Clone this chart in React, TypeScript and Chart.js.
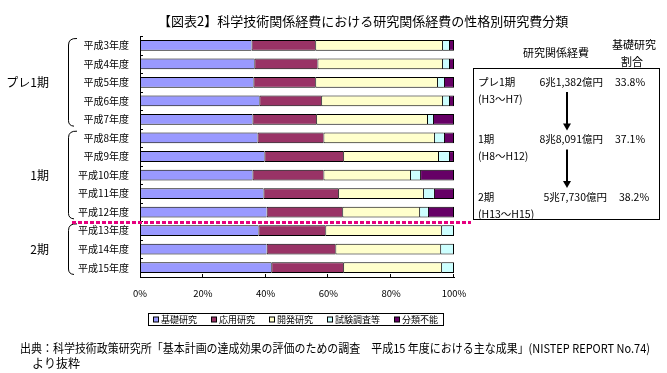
import React, { useEffect, useRef } from 'react';
import { Chart, registerables } from 'chart.js';

Chart.register(...registerables);

const FONT = '"Noto Sans CJK JP", "Noto Sans", sans-serif';

const titleText = '【図表2】科学技術関係経費における研究関係経費の性格別研究費分類';
const footerLine1 = '出典：科学技術政策研究所「基本計画の達成効果の評価のための調査　平成15 年度における主な成果」(NISTEP REPORT No.74)';
const footerLine2 = 'より抜粋';

const years = ['平成3年度', '平成4年度', '平成5年度', '平成6年度', '平成7年度', '平成8年度', '平成9年度', '平成10年度', '平成11年度', '平成12年度', '平成13年度', '平成14年度', '平成15年度'];
const basic = [35.5, 36.4, 36.1, 38.0, 35.8, 37.4, 39.6, 35.8, 39.3, 40.3, 37.7, 40.3, 41.8];
const applied = [20.3, 20.1, 19.7, 19.7, 20.3, 21.0, 25.1, 22.6, 23.8, 24.1, 21.3, 21.9, 22.9];
const development = [40.4, 39.7, 38.8, 38.5, 35.3, 35.2, 30.2, 27.6, 27.0, 24.5, 36.9, 33.4, 31.2];
const survey = [2.2, 2.2, 2.2, 2.2, 1.9, 3.2, 3.5, 3.2, 3.5, 2.8, 4.1, 4.4, 4.1];
const unclassified = [1.6, 1.6, 3.2, 1.6, 6.7, 3.2, 1.6, 10.8, 6.4, 8.3, 0, 0, 0];

const seriesNames = ['基礎研究', '応用研究', '開発研究', '試験調査等', '分類不能'];
const seriesColors = ['#9999FF', '#993366', '#FFFFCC', '#CCFFFF', '#660066'];
const xTicks = [0, 20, 40, 60, 80, 100];

const periodLabels = ['プレ1期', '1期', '2期'];
const periodStart = [0, 5, 10];
const periodEnd = [4, 9, 12];
const periodRanges = ['(H3～H7)', '(H8～H12)', '(H13～H15)'];
const periodBudgets = ['6兆1,382億円', '8兆8,091億円', '5兆7,730億円'];
const basicShares = ['33.8%', '37.1%', '38.2%'];

const allSeries = [basic, applied, development, survey, unclassified];

function isLastSegment(ds: number, idx: number) {
  for (let k = ds + 1; k < allSeries.length; k++) {
    if (allSeries[k][idx] > 0) return false;
  }
  return true;
}

const decorPlugin = {
  id: 'decor',
  afterDraw(chart: any) {
    const ctx = chart.ctx;
    const xs = chart.scales.x;
    const ys = chart.scales.y;
    const area = chart.chartArea;
    const n = years.length;
    const band = (area.bottom - area.top) / n;
    const bTop = (i: number) => ys.getPixelForValue(i) - band / 2;
    ctx.save();
    ctx.strokeStyle = '#000';
    ctx.fillStyle = '#000';
    ctx.lineWidth = 1;

    // inside tick marks on y axis (category boundaries)
    for (let i = 0; i < n; i++) {
      const yy = Math.round(bTop(i)) + 0.5;
      ctx.beginPath();
      ctx.moveTo(area.left, yy);
      ctx.lineTo(area.left + 3, yy);
      ctx.stroke();
    }
    // inside tick marks on x axis
    xTicks.slice(1).forEach((v) => {
      const xx = Math.round(xs.getPixelForValue(v)) - 0.5;
      ctx.beginPath();
      ctx.moveTo(xx, area.bottom);
      ctx.lineTo(xx, area.bottom - 3);
      ctx.stroke();
    });

    // title
    ctx.font = `13px ${FONT}`;
    ctx.textBaseline = 'middle';
    ctx.textAlign = 'left';
    ctx.fillText(titleText, 158, 21, 430);

    // period groups: labels and brackets
    ctx.font = `12px ${FONT}`;
    ctx.textAlign = 'right';
    periodLabels.forEach((lab, g) => {
      const top = bTop(periodStart[g]);
      const bot = bTop(periodEnd[g]) + band;
      ctx.fillText(lab, 49, (top + bot) / 2);
      const t = top + 2;
      const b = bot - 3;
      ctx.beginPath();
      ctx.moveTo(77, t + 0.5);
      ctx.quadraticCurveTo(68.5, t, 68.5, t + 7);
      ctx.lineTo(68.5, b - 5);
      ctx.quadraticCurveTo(68.5, b, 74, b + 0.5);
      ctx.stroke();
    });

    // pink dotted separator between period 1 and period 2
    const sepY = bTop(periodStart[2]) + 1;
    ctx.save();
    ctx.strokeStyle = '#E6007E';
    ctx.lineWidth = 3;
    ctx.setLineDash([4, 2]);
    ctx.beginPath();
    ctx.moveTo(72, sepY);
    ctx.lineTo(471, sepY);
    ctx.stroke();
    ctx.restore();

    // right panel
    ctx.font = `11px ${FONT}`;
    ctx.textAlign = 'center';
    ctx.fillText('研究関係経費', 556, 53);
    ctx.fillText('基礎研究', 634, 45);
    ctx.fillText('割合', 632, 62);
    ctx.strokeRect(473.5, 68.5, 186, 151);
    const rowY = [82, 139.5, 197];
    ctx.font = `10.5px ${FONT}`;
    periodLabels.forEach((lab, i) => {
      ctx.textAlign = 'left';
      ctx.fillText(lab, 478, rowY[i]);
      ctx.fillText(periodRanges[i], 478, rowY[i] + 17);
      ctx.textAlign = 'right';
      ctx.fillText(periodBudgets[i], 603 + (i === 2 ? 4 : 0), rowY[i]);
      ctx.textAlign = 'left';
      ctx.fillText(basicShares[i], 615 + (i === 2 ? 4 : 0), rowY[i]);
    });
    // arrows
    for (let i = 0; i < 2; i++) {
      const ax = 567;
      const y0 = rowY[i] + 10;
      const tip = rowY[i + 1] - 9;
      ctx.lineWidth = 2;
      ctx.beginPath();
      ctx.moveTo(ax, y0);
      ctx.lineTo(ax, tip - 5);
      ctx.stroke();
      ctx.beginPath();
      ctx.moveTo(ax - 4, tip - 7);
      ctx.lineTo(ax + 4, tip - 7);
      ctx.lineTo(ax, tip);
      ctx.closePath();
      ctx.fill();
    }
    ctx.lineWidth = 1;

    // legend
    const lx = 148, ly = 313, lw = 295, lh = 12;
    ctx.strokeRect(lx + 0.5, ly + 0.5, lw, lh);
    ctx.font = `9px ${FONT}`;
    ctx.textAlign = 'left';
    const gap = 14;
    const widths = seriesNames.map((s) => 5 + 3 + ctx.measureText(s).width);
    const total = widths.reduce((a, b) => a + b, 0) + gap * (seriesNames.length - 1);
    let cx = lx + (lw - total) / 2;
    const cy = ly + lh / 2 + 0.5;
    seriesNames.forEach((s, i) => {
      ctx.fillStyle = seriesColors[i];
      ctx.fillRect(cx + 0.5, cy - 2.5, 5, 5);
      ctx.strokeStyle = '#000';
      ctx.strokeRect(cx + 0.5, cy - 2.5, 5, 5);
      ctx.fillStyle = '#000';
      ctx.fillText(s, cx + 8, cy);
      cx += widths[i] + gap;
    });

    // footer
    ctx.font = `12px ${FONT}`;
    ctx.fillText(footerLine1, 20, 348, 630);
    ctx.fillText(footerLine2, 32, 363);

    ctx.restore();
  },
};

export default function App() {
  const ref = useRef<HTMLCanvasElement | null>(null);
  useEffect(() => {
    if (!ref.current) return;
    const chart = new Chart(ref.current, {
      type: 'bar',
      data: {
        labels: years,
        datasets: allSeries.map((data, k) => ({
          label: seriesNames[k],
          data,
          backgroundColor: seriesColors[k],
          borderColor: '#000',
          borderWidth: (c: any) => {
            const v = allSeries[k][c.dataIndex];
            if (!v) return 0;
            return { top: 1, bottom: 1, left: 1, right: isLastSegment(k, c.dataIndex) ? 1 : 0 };
          },
          borderSkipped: false,
          barPercentage: 0.58,
          categoryPercentage: 1,
        })),
      },
      options: {
        indexAxis: 'y',
        responsive: false,
        animation: false,
        layout: { padding: { top: 36, right: 213, bottom: 76, left: 0 } },
        plugins: {
          legend: { display: false },
          tooltip: { enabled: false },
          title: { display: false },
        },
        scales: {
          x: {
            stacked: true,
            min: 0,
            max: 100,
            afterFit: (s: any) => { s.height = 20; },
            afterBuildTicks: (s: any) => { s.ticks = xTicks.map((v) => ({ value: v })); },
            grid: { display: false, drawTicks: false },
            border: { display: true, color: '#000', width: 1 },
            ticks: {
              padding: 11,
              color: '#000',
              autoSkip: false,
              maxRotation: 0,
              font: { family: FONT, size: 9.5 },
              callback: (v: any) => v + '%',
            },
          },
          y: {
            stacked: true,
            afterFit: (s: any) => { s.width = 140; },
            grid: { display: false, drawTicks: false },
            border: { display: true, color: '#000', width: 1 },
            ticks: {
              padding: 11,
              color: '#000',
              autoSkip: false,
              font: { family: FONT, size: 10 },
            },
          },
        },
      },
      plugins: [decorPlugin],
    } as any);
    return () => chart.destroy();
  }, []);
  return (
    <div style={{ position: 'fixed', left: 0, top: 0, width: 667, height: 373, background: '#fff' }}>
      <canvas ref={ref} width={667} height={373} style={{ display: 'block', width: 667, height: 373 }} />
    </div>
  );
}
